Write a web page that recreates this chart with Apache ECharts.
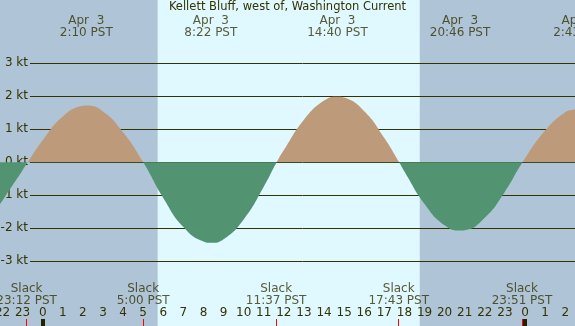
<!DOCTYPE html>
<html><head><meta charset="utf-8">
<script src="https://cdn.jsdelivr.net/npm/echarts@6/dist/echarts.min.js"></script>
<style>html,body{margin:0;padding:0;background:#b0c4d8}#c{width:575px;height:326px}</style>
</head><body><div id="c"></div>
<script>
// ---- data (hours since Apr 3 00:00 PST, speeds in knots) ----
const titleText = 'Kellett Bluff, west of, Washington Current';
const viewStart = -2.125;
const viewEnd = 26.488;
const hourTicks = [-2,-1,0,1,2,3,4,5,6,7,8,9,10,11,12,13,14,15,16,17,18,19,20,21,22,23,24,25,26];
const midnightTimes = [0, 24];
const sunTimes = [5.72, 18.77]; // sunrise, sunset
const curveHours  = [-2.125, -2, -1.83, -1, -0.75, 0, 1, 2, 2.17, 3, 4, 5, 6, 7, 8, 8.37, 9, 10, 11, 11.64, 12, 13, 14, 14.67, 15, 16, 17, 17.74, 18, 19, 20, 20.77, 21, 22, 23, 23.88, 25, 26, 26.488, 26.72];
const curveSpeeds = [-1.27, -1.16, -1.0, -0.24, 0, 0.67, 1.39, 1.71, 1.72, 1.54, 0.91, 0, -1.08, -1.96, -2.40, -2.44, -2.33, -1.73, -0.74, 0, 0.37, 1.29, 1.87, 1.99, 1.96, 1.55, 0.74, 0, -0.28, -1.26, -1.91, -2.07, -2.06, -1.68, -0.89, 0, 0.96, 1.52, 1.61, 1.65];
const extremeTimes = [2.167, 8.367, 14.667, 20.767, 26.717];
const extremeLabels = ['Apr  3\n2:10 PST', 'Apr  3\n8:22 PST', 'Apr  3\n14:40 PST', 'Apr  3\n20:46 PST', 'Apr  4\n2:43 PST'];
const slackTimes = [-0.8, 5.0, 11.617, 17.717, 23.85];
const slackLabels = ['Slack\n23:12 PST', 'Slack\n5:00 PST', 'Slack\n11:37 PST', 'Slack\n17:43 PST', 'Slack\n23:51 PST'];

// ---- styling ----
const FONT = 'DejaVu Sans';
const TXT = '#333300';
const NIGHT = '#b0c4d8', DAY = '#e0f8ff', FLOOD = '#bd9b7a', EBB = '#529472';
const TOP_LABEL_Y = 26.5, SLACK_LABEL_Y = 294.5;

const bands = [[viewStart, sunTimes[0], 0], [sunTimes[0], sunTimes[1], 1], [sunTimes[1], viewEnd, 0]];
const chart = echarts.init(document.getElementById('c'));
const G = {outerBoundsMode: 'none', containLabel: false};
chart.setOption({
  animation: false,
  backgroundColor: NIGHT,
  title: {text: titleText, left: 'center', top: 1.5, padding: 0,
    textStyle: {fontSize: 11.5, fontWeight: 'normal', color: TXT, fontFamily: FONT, lineHeight: 12}},
  grid: [
    Object.assign({left: 0, right: 0, top: 0, bottom: 0}, G),
    Object.assign({left: 30, right: 0, top: 63.3, height: 198}, G),
    Object.assign({left: 0, right: 0, top: 63.3, height: 198}, G),
    Object.assign({left: 0, right: 0, top: 0, bottom: 0}, G),
    Object.assign({left: 0, right: 0, top: 0, bottom: 0}, G)
  ],
  xAxis: [
    {gridIndex: 0, type: 'value', min: viewStart, max: viewEnd, position: 'bottom', z: 4,
      axisLine: {show: false}, splitLine: {show: false},
      axisTick: {inside: true, length: 7, customValues: hourTicks, lineStyle: {color: TXT, width: 1}},
      axisLabel: {inside: true, margin: 7, customValues: hourTicks, color: TXT, fontSize: 12, fontFamily: FONT,
        hideOverlap: false, formatter: v => String(((Math.round(v) % 24) + 24) % 24)}},
    {gridIndex: 1, type: 'value', min: 0, max: 1, show: false},
    {gridIndex: 2, type: 'value', min: viewStart, max: viewEnd, show: false},
    {gridIndex: 3, type: 'value', min: viewStart, max: viewEnd, position: 'bottom', z: 5,
      axisLine: {show: false}, splitLine: {show: false}, axisLabel: {show: false},
      axisTick: {inside: true, length: 7, customValues: slackTimes, lineStyle: {color: '#ff0000', width: 1}}},
    {gridIndex: 4, type: 'value', min: viewStart, max: viewEnd, position: 'bottom', z: 5,
      axisLine: {show: false}, splitLine: {show: false}, axisLabel: {show: false},
      axisTick: {inside: true, length: 7, customValues: midnightTimes, lineStyle: {color: '#222200', width: 4}}}
  ],
  yAxis: [
    {gridIndex: 0, type: 'value', min: 0, max: 326, inverse: true, show: false},
    {gridIndex: 1, type: 'value', min: -3, max: 3, interval: 1, position: 'left', z: 1,
      axisLine: {show: false}, axisTick: {show: false},
      axisLabel: {margin: 2, formatter: '{value} kt', color: TXT, fontSize: 12, fontFamily: FONT},
      splitLine: {show: true, lineStyle: {color: TXT, width: 1}}},
    {gridIndex: 2, type: 'value', min: -3, max: 3, show: false},
    {gridIndex: 3, type: 'value', min: 0, max: 1, show: false},
    {gridIndex: 4, type: 'value', min: 0, max: 1, show: false}
  ],
  series: [
    {type: 'custom', xAxisIndex: 0, yAxisIndex: 0, z: 0, silent: true,
      data: bands,
      renderItem: (params, api) => {
        const s = api.coord([api.value(0), 0]);
        const e = api.coord([api.value(1), 0]);
        const cs = params.coordSys;
        return {type: 'rect', shape: {x: s[0], y: cs.y, width: e[0] - s[0], height: cs.height},
          style: {fill: api.value(2) ? DAY : NIGHT}};
      }},
    {type: 'line', xAxisIndex: 2, yAxisIndex: 2, z: 2, smooth: 0.5, symbol: 'none',
      data: curveHours.map((h, i) => [h, curveSpeeds[i]]),
      lineStyle: {opacity: 0, width: 0},
      areaStyle: {opacity: 1, color: FLOOD}},
    {type: 'scatter', xAxisIndex: 0, yAxisIndex: 0, z: 6, clip: false, symbolSize: 1,
      itemStyle: {color: 'rgba(0,0,0,0)'},
      data: extremeTimes.map(t => [t, TOP_LABEL_Y]),
      label: {show: true, position: 'inside', color: TXT, fontSize: 12, lineHeight: 12, fontFamily: FONT,
        align: 'center', formatter: p => extremeLabels[p.dataIndex]}},
    {type: 'scatter', xAxisIndex: 0, yAxisIndex: 0, z: 6, clip: false, symbolSize: 1,
      itemStyle: {color: 'rgba(0,0,0,0)'},
      data: slackTimes.map(t => [t, SLACK_LABEL_Y]),
      label: {show: true, position: 'inside', color: TXT, fontSize: 12, lineHeight: 12, fontFamily: FONT,
        align: 'center', formatter: p => slackLabels[p.dataIndex]}}
  ]
});
// colour the area above zero as flood and below zero as ebb, split at the axis zero
const zeroY = chart.convertToPixel({gridIndex: 2}, [0, 0])[1];
chart.setOption({series: [{}, {areaStyle: {opacity: 1, color: new echarts.graphic.LinearGradient(0, zeroY - 0.5, 0, zeroY + 0.5, [
  {offset: 0, color: FLOOD}, {offset: 0.5, color: FLOOD}, {offset: 0.5, color: EBB}, {offset: 1, color: EBB}], true)}}]});
</script></body></html>
